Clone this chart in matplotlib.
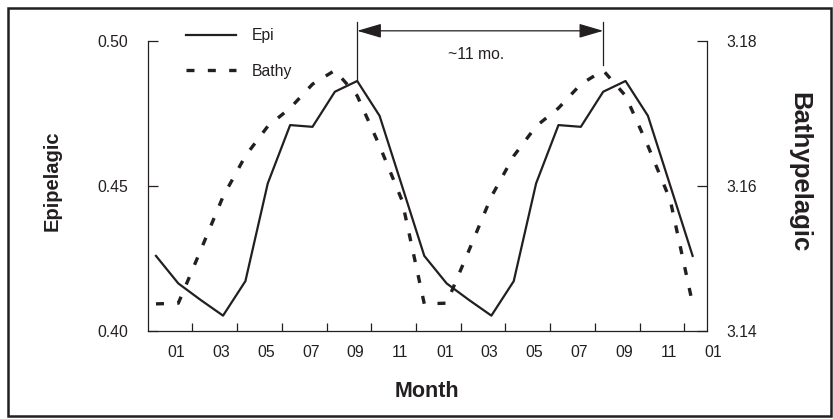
import numpy as np
import matplotlib
matplotlib.use("Agg")
import matplotlib.pyplot as plt
from matplotlib.patches import Rectangle
from matplotlib.transforms import ScaledTranslation

plt.rcParams['font.family'] = ['Liberation Sans', 'DejaVu Sans']

INK = "#231f20"

# Monthly means (Dec .. Nov), shown for two cycles plus the closing December
epi_year = [0.4258, 0.4163, 0.4106, 0.4052, 0.4171, 0.4508,
            0.4709, 0.4703, 0.4824, 0.4861, 0.4741, 0.4500]
bathy_year = [3.1437, 3.1438, 3.1511, 3.1585, 3.1641, 3.1682,
              3.1707, 3.1740, 3.1759, 3.1724, 3.1655, 3.1580]
month_labels = ["01", "03", "05", "07", "09", "11",
                "01", "03", "05", "07", "09", "11", "01"]

epi = epi_year * 2 + [epi_year[0]]
bathy = bathy_year * 2 + [bathy_year[0]]
x = np.arange(len(epi)) + 0.37

fig = plt.figure(figsize=(8.33, 4.19), dpi=100)
ax = fig.add_axes([0.1773, 0.2107, 0.6711, 0.6922])
ax2 = ax.twinx()

l1, = ax.plot(x, epi, color=INK, lw=1.6, label="Epi")
l2, = ax2.plot(x, bathy, color=INK, lw=2.4, ls=(0, (2.4, 4.0)), label="Bathy")

ax.set_xlim(0, 25)
ax.set_ylim(0.40, 0.50)
ax2.set_ylim(3.14, 3.18)

for s in ["top", "right"]:
    ax.spines[s].set_visible(False)
for s in ["top", "left", "bottom"]:
    ax2.spines[s].set_visible(False)
for sp in list(ax.spines.values()) + list(ax2.spines.values()):
    sp.set_color(INK)
    sp.set_linewidth(0.9)

# x axis: ticks every two months, labels offset a little to the right
ax.set_xticks(np.arange(2, 25, 2))
ax.set_xticklabels([])
ax.set_xticks(np.arange(1, 26, 2), minor=True)
ax.set_xticklabels(month_labels, minor=True)
ax.tick_params(axis="x", which="major", direction="in", length=6, width=0.9, color=INK)
ax.tick_params(axis="x", which="minor", length=0, pad=10.5, labelsize=11.3, labelcolor=INK)
shift = ScaledTranslation(6.5 / 100, 0, fig.dpi_scale_trans)
for lab in ax.get_xticklabels(minor=True):
    lab.set_transform(lab.get_transform() + shift)

ax.set_yticks([0.40, 0.45, 0.50])
ax.set_yticklabels(["0.40", "0.45", "0.50"])
ax.tick_params(axis="y", direction="in", length=7, width=0.9, color=INK,
               pad=14, labelsize=11.3, labelcolor=INK)
ax2.set_yticks([3.14, 3.16, 3.18])
ax2.set_yticklabels(["3.14", "3.16", "3.18"])
ax2.tick_params(axis="y", direction="in", length=7, width=0.9, color=INK,
                pad=14, labelsize=11.3, labelcolor=INK)

ax.set_xlabel("Month", fontsize=15.5, fontweight="bold", color=INK, va="center")
ax.xaxis.set_label_coords(0.5, -0.208)
ax.set_ylabel("Epipelagic", fontsize=14.5, fontweight="bold", color=INK, va="center")
ax.yaxis.set_label_coords(-0.171, 0.517)
ax2.set_ylabel("Bathypelagic", fontsize=18.5, fontweight="bold", color=INK,
               rotation=-90, va="center")
ax2.yaxis.set_label_coords(1.165, 0.548)

# ~11 month lag between Epi peak and the next Bathy peak
i_epi = int(np.argmax(epi_year))
i_bathy = int(np.argmax(bathy_year)) + 12
x_a, x_b = x[i_epi], x[i_bathy]
y_top = 0.5063
y_arrow = 0.5034
b_peak_in_epi = 0.40 + (bathy[i_bathy] - 3.14) / 0.04 * 0.10
ax.plot([x_a, x_a], [epi[i_epi], y_top], color=INK, lw=0.9, clip_on=False)
ax.plot([x_b, x_b], [b_peak_in_epi + 0.002, y_top], color=INK, lw=0.9, clip_on=False)
ax.annotate("", xy=(x_a, y_arrow), xytext=(x_b, y_arrow), annotation_clip=False,
            arrowprops=dict(arrowstyle="<|-|>,head_length=0.75,head_width=0.22",
                            color=INK, lw=0.9, mutation_scale=20,
                            shrinkA=0, shrinkB=0))
ax.text((x_a + x_b) / 2 - 0.2, 0.4951, "~11 mo.", ha="center", va="center",
        fontsize=11.3, color=INK)

ax.legend(handles=[l1, l2], loc="upper left", frameon=False,
          bbox_to_anchor=(186 / 833, 1 - 28 / 419), bbox_transform=fig.transFigure,
          borderpad=0, borderaxespad=0, handlelength=3.2, handletextpad=1.0,
          labelspacing=1.32, fontsize=11.3, labelcolor=INK)

fig.patches.append(Rectangle((8.3 / 833, 3.3 / 419), 822.7 / 833, 407.4 / 419,
                             transform=fig.transFigure, fill=False,
                             edgecolor=INK, lw=1.8))

fig.savefig("out.png", dpi=100)
